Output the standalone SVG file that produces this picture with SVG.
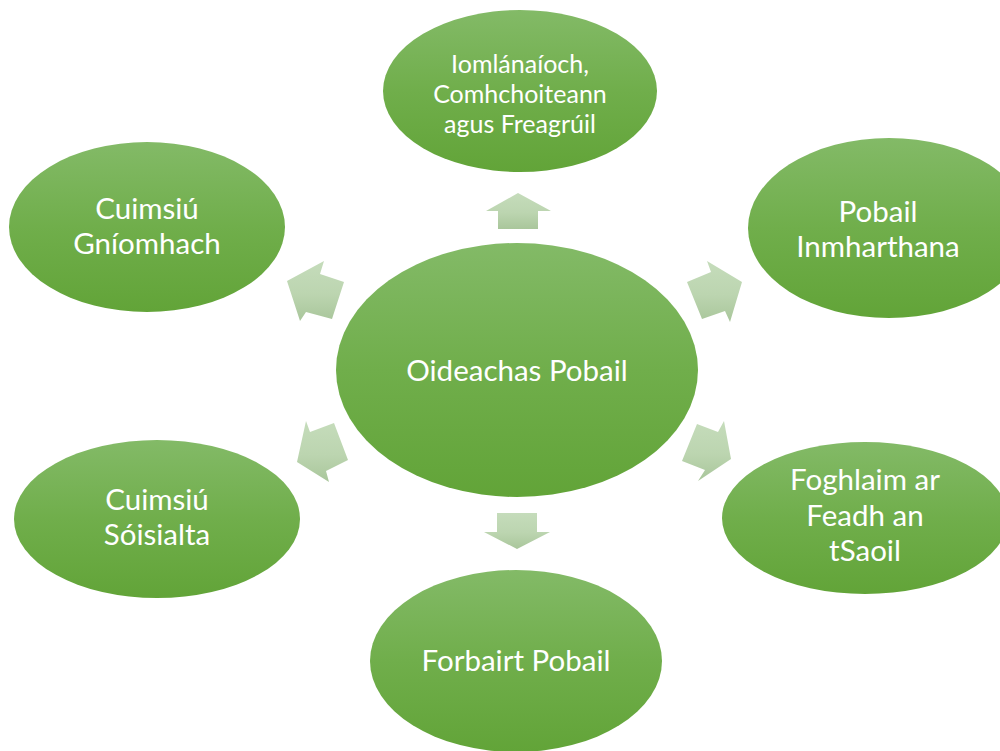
<svg xmlns="http://www.w3.org/2000/svg" width="1000" height="751" viewBox="0 0 1000 751">
<defs>
<linearGradient id="gE" x1="0" y1="0" x2="0" y2="1">
<stop offset="0" stop-color="#83ba67"/>
<stop offset="0.5" stop-color="#70ae4b"/>
<stop offset="1" stop-color="#62a438"/>
</linearGradient>
<linearGradient id="gA" x1="0" y1="0" x2="0" y2="1">
<stop offset="0" stop-color="#c5dcbb"/>
<stop offset="0.55" stop-color="#bcd5b0"/>
<stop offset="1" stop-color="#a9c69b"/>
</linearGradient>
</defs>
<style>
.node ellipse{fill:url(#gE);}
.node text{fill:#ffffff;font-family:Lato,"Open Sans","Liberation Sans",sans-serif;text-anchor:middle;}
.big{font-size:29.5px;}
.small{font-size:25px;}
.arrow{fill:url(#gA);}
</style>
<rect width="1000" height="751" fill="#ffffff"/>
<g id="connectors">
<polygon class="arrow" points="518,193 551,211 538,211 538,229 498,229 498,211 486,211"/>
<polygon class="arrow" points="287,281 324,261 320,274 344,282 332,319 306,312 300,321"/>
<polygon class="arrow" points="742,282 707,261 711,272 687,282 702,319 725,311 730,322"/>
<polygon class="arrow" points="297,462 306,421 310,432 334,423 348,460 326,471 329,482"/>
<polygon class="arrow" points="731,459 724,421 718,432 697,424 682,461 705,470 698,481"/>
<polygon class="arrow" points="517,549 550,532 537,532 537,513 497,513 497,532 484,532"/>
</g>
<g id="node-center" class="node">
<ellipse cx="517" cy="370" rx="181" ry="127"/>
<text class="big" x="517" y="381">Oideachas Pobail</text>
</g>
<g id="node-top" class="node">
<ellipse cx="520" cy="91" rx="137" ry="81"/>
<text class="small" x="520" y="73">Iomlánaíoch,</text>
<text class="small" x="520" y="103">Comhchoiteann</text>
<text class="small" x="520" y="133">agus Freagrúil</text>
</g>
<g id="node-topleft" class="node">
<ellipse cx="147" cy="227" rx="138" ry="85"/>
<text class="big" x="147" y="219">Cuimsiú</text>
<text class="big" x="147" y="254">Gníomhach</text>
</g>
<g id="node-topright" class="node">
<ellipse cx="889" cy="228" rx="141" ry="90"/>
<text class="big" x="878" y="222">Pobail</text>
<text class="big" x="878" y="257">Inmharthana</text>
</g>
<g id="node-bottomleft" class="node">
<ellipse cx="157" cy="519" rx="143" ry="79"/>
<text class="big" x="157" y="510">Cuimsiú</text>
<text class="big" x="157" y="545">Sóisialta</text>
</g>
<g id="node-bottomright" class="node">
<ellipse cx="865" cy="518" rx="143" ry="76"/>
<text class="big" x="865" y="490">Foghlaim ar</text>
<text class="big" x="865" y="526">Feadh an</text>
<text class="big" x="865" y="561">tSaoil</text>
</g>
<g id="node-bottom" class="node">
<ellipse cx="516" cy="661" rx="146" ry="91"/>
<text class="big" x="516" y="671">Forbairt Pobail</text>
</g>
</svg>
